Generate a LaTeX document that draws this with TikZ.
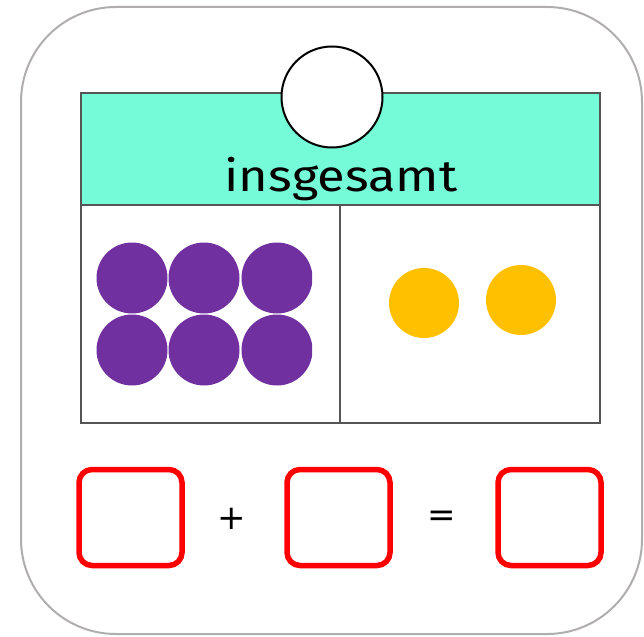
\documentclass[tikz,border=0pt]{standalone}
\usepackage{fontspec}
\setmainfont{Fira Sans}
\newfontfamily\opfont{DejaVu Sans}
\definecolor{headc}{RGB}{117,251,215}
\definecolor{purp}{RGB}{112,48,160}
\definecolor{gold}{RGB}{255,192,0}
\definecolor{framec}{RGB}{176,173,173}
\definecolor{tablec}{RGB}{85,85,85}
\tikzset{
  px/.style={x=1pt,y=-1pt},
  purpdot/.style={circle,fill=purp,minimum size=71pt,inner sep=0pt},
  golddot/.style={circle,fill=gold,minimum size=70pt,inner sep=0pt},
  answerbox/.style={draw=red,line width=5.5pt,rounded corners=13pt,minimum width=103pt,minimum height=96pt,inner sep=0pt},
  tableline/.style={draw=tablec,line width=1.3pt}
}
\begin{document}
\begin{tikzpicture}[px]
\useasboundingbox (0,0) rectangle (644,636);
% outer frame
\draw[framec,line width=2pt,rounded corners=95pt] (21,7) rectangle (642,634);
% header
\fill[headc] (81,93) rectangle (600,205);
\draw[tableline] (81,93) rectangle (600,423);
\draw[tableline] (81,205) -- (600,205);
\draw[tableline] (340,205) -- (340,423);
\node[circle,draw=black,fill=white,line width=2pt,minimum size=101pt,inner sep=0pt] (top) at (332,97) {};
\node[anchor=base,font=\fontsize{44}{44}\selectfont,xscale=1.15] (title) at (341,192) {insgesamt};
% purple dots
\begin{scope}
\clip (81,205) rectangle (312,423);
\node[purpdot] (p1) at (132,278) {};
\node[purpdot] (p2) at (204,278) {};
\node[purpdot] (p3) at (277,278) {};
\node[purpdot] (p4) at (132,350) {};
\node[purpdot] (p5) at (204,350) {};
\node[purpdot] (p6) at (277,350) {};
\end{scope}
% yellow dots
\node[golddot] (y1) at (424,303) {};
\node[golddot] (y2) at (521,300) {};
% equation
\node[answerbox] (b1) at (130.5,517.5) {};
\node[answerbox] (b2) at (338.5,517.5) {};
\node[answerbox] (b3) at (549.5,517.5) {};
\node[font=\opfont\fontsize{34}{34}\selectfont] (plus) at (232,519) {+};
\node[font=\opfont\fontsize{34}{34}\selectfont] (eq) at (442,519) {=};
\end{tikzpicture}
\end{document}
